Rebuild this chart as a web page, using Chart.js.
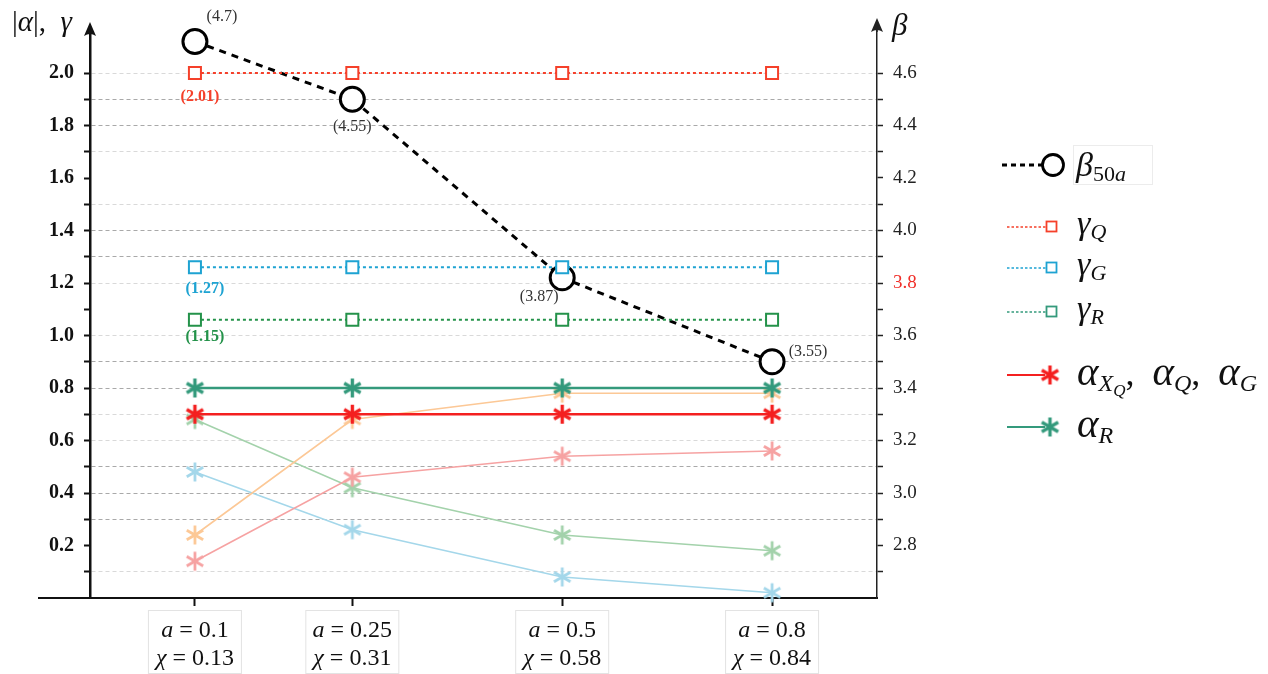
<!DOCTYPE html>
<html>
<head>
<meta charset="utf-8">
<script src="https://cdn.jsdelivr.net/npm/chart.js@4.4.0/dist/chart.umd.min.js"></script>
<style>
  html, body { margin: 0; padding: 0; background: #fff; }
</style>
</head>
<body>
<canvas id="chart" width="1268" height="674"></canvas>
<script>
// case positions along x (spacing as in the figure) and their labels
const casePos = [0, 3, 7, 11];
const aVals = ['0.1', '0.25', '0.5', '0.8'];
const chiVals = ['0.13', '0.31', '0.58', '0.84'];

// beta_50a (right axis)
const beta50a = [4.72, 4.5, 3.82, 3.5];
const betaLabels = ['(4.7)', '(4.55)', '(3.87)', '(3.55)'];

// gamma (left axis)
const gammaQ = [2.0, 2.0, 2.0, 2.0];
const gammaG = [1.26, 1.26, 1.26, 1.26];
const gammaR = [1.06, 1.06, 1.06, 1.06];
const gammaLabels = ['(2.01)', '(1.27)', '(1.15)'];

// alpha (left axis)
const alphaXQG = [0.7, 0.7, 0.7, 0.7];
const alphaR = [0.8, 0.8, 0.8, 0.8];

// faint background series
const faintOrange = [0.24, 0.68, 0.78, 0.78];
const faintPink = [0.14, 0.46, 0.54, 0.56];
const faintGreen = [0.68, 0.42, 0.24, 0.18];
const faintBlue = [0.48, 0.26, 0.08, 0.02];

// tick values
const leftTicks = [0.1, 0.2, 0.3, 0.4, 0.5, 0.6, 0.7, 0.8, 0.9, 1.0, 1.1, 1.2, 1.3, 1.4, 1.5, 1.6, 1.7, 1.8, 1.9, 2.0];
const rightTicks = [2.7, 2.8, 2.9, 3.0, 3.1, 3.2, 3.3, 3.4, 3.5, 3.6, 3.7, 3.8, 3.9, 4.0, 4.1, 4.2, 4.3, 4.4, 4.5, 4.6];

const serif = '"Liberation Serif", "DejaVu Serif", serif';

// gridline shade per tenth (L light, M medium, '' none)
const gridShade = {1: 'L', 2: '', 3: 'M', 4: 'M', 5: 'M', 6: 'L', 7: 'L', 8: 'M', 9: 'M', 10: 'L',
    11: '', 12: 'L', 13: 'M', 14: 'M', 15: 'L', 16: '', 17: 'L', 18: 'M', 19: 'M', 20: 'L'};
const gridColor = v => {
    const s = gridShade[Math.round(v * 10)];
    return s === 'M' ? '#a9a9a9' : s === 'L' ? '#d9d9d9' : 'rgba(0,0,0,0)';
};

const pts = arr => casePos.map((x, i) => ({x, y: arr[i]}));

// six-spoke asterisk marker
const makeStar = (color, r, lw) => {
    const c = document.createElement('canvas');
    const s = Math.ceil(2 * r + lw + 2);
    c.width = c.height = s;
    const g = c.getContext('2d');
    g.strokeStyle = color;
    g.lineWidth = lw;
    g.translate(s / 2, s / 2);
    for (let k = 0; k < 3; k++) {
        const a = Math.PI / 2 + k * Math.PI / 3;
        g.beginPath();
        g.moveTo(r * Math.cos(a), r * Math.sin(a));
        g.lineTo(-r * Math.cos(a), -r * Math.sin(a));
        g.stroke();
    }
    return c;
};

const C = {
    red: '#f5402a', cyan: '#1ea3d2', green: '#24924a',
    aRed: '#f42020', aTeal: '#349a7c',
    orange: '#fcc896', pink: '#f6a2a2', lgreen: '#a3d2ab', lblue: '#a4d7ea'
};

const stars = {
    aRed: makeStar(C.aRed, 9.5, 3.4), aTeal: makeStar(C.aTeal, 9.5, 3.4),
    orange: makeStar(C.orange, 9.5, 2.8), pink: makeStar(C.pink, 9.5, 2.8),
    lgreen: makeStar(C.lgreen, 9.5, 2.8), lblue: makeStar(C.lblue, 9.5, 2.8)
};

const faintSet = (data, col) => ({
    data: pts(data), yAxisID: 'y', borderColor: C[col], borderWidth: 1.6,
    pointStyle: stars[col], pointRadius: 9, order: 6
});
const gammaSet = (data, col) => ({
    data: pts(data), yAxisID: 'y', borderColor: C[col], borderWidth: 2, borderDash: [3, 3],
    pointStyle: 'rect', pointRadius: 8.5, pointBorderWidth: 2,
    pointBorderColor: C[col], pointBackgroundColor: '#fff', order: 2
});
const alphaSet = (data, col) => ({
    data: pts(data), yAxisID: 'y', borderColor: C[col], borderWidth: 2.4,
    pointStyle: stars[col], pointRadius: 9, order: 3
});

// draw a row of text runs with different fonts
const drawRuns = (ctx, runs, x, y, align) => {
    let w = 0;
    runs.forEach(r => { ctx.font = r.font; w += ctx.measureText(r.t).width; });
    let cx = align === 'center' ? x - w / 2 : x;
    runs.forEach(r => {
        ctx.font = r.font;
        ctx.fillText(r.t, cx, y + (r.dy || 0));
        cx += ctx.measureText(r.t).width;
    });
    return w;
};

const arrowUp = (ctx, x, fromY, tipY, lw, color) => {
    ctx.strokeStyle = color;
    ctx.fillStyle = color;
    ctx.lineWidth = lw;
    ctx.beginPath(); ctx.moveTo(x, fromY); ctx.lineTo(x, tipY + 8); ctx.stroke();
    ctx.beginPath();
    ctx.moveTo(x, tipY);
    ctx.lineTo(x - 6, tipY + 14);
    ctx.quadraticCurveTo(x, tipY + 10, x + 6, tipY + 14);
    ctx.closePath();
    ctx.fill();
};

const extras = {
    id: 'extras',
    afterDraw(chart) {
        const {ctx, chartArea: ca, scales} = chart;
        ctx.save();

        // axis extensions and arrows
        ctx.strokeStyle = '#111';
        ctx.lineWidth = 2;
        ctx.beginPath(); ctx.moveTo(38, ca.bottom); ctx.lineTo(ca.left, ca.bottom); ctx.stroke();
        arrowUp(ctx, ca.left, ca.top + 1, 22, 2.5, '#111');
        arrowUp(ctx, ca.right, ca.top + 1, 18, 1.5, '#222');

        // axis titles
        ctx.fillStyle = '#111';
        ctx.textBaseline = 'alphabetic';
        drawRuns(ctx, [
            {t: '|', font: `29px ${serif}`},
            {t: 'α', font: `italic 29px ${serif}`},
            {t: '|,  ', font: `29px ${serif}`},
            {t: 'γ', font: `italic 29px ${serif}`}
        ], 12, 31, 'left');
        drawRuns(ctx, [{t: 'β', font: `italic 31px ${serif}`}], 892, 35, 'left');

        // x case labels in faint boxes
        casePos.forEach((v, i) => {
            const cx = scales.x.getPixelForValue(v);
            ctx.strokeStyle = '#e3e3e3';
            ctx.lineWidth = 1;
            ctx.strokeRect(cx - 46.5, 610.5, 93, 63);
            ctx.fillStyle = '#111';
            drawRuns(ctx, [
                {t: 'a', font: `italic 24px ${serif}`},
                {t: ' = ' + aVals[i], font: `24px ${serif}`}
            ], cx, 637, 'center');
            drawRuns(ctx, [
                {t: 'χ', font: `italic 24px ${serif}`},
                {t: ' = ' + chiVals[i], font: `24px ${serif}`}
            ], cx, 665, 'center');
        });

        // value labels
        ctx.textAlign = 'center';
        ctx.textBaseline = 'middle';
        const bMeta = chart.getDatasetMeta(0);
        const bOff = [[27, -25], [0, 28], [-23, 19], [36, -10]];
        ctx.font = `16px ${serif}`;
        ctx.fillStyle = '#333';
        bMeta.data.forEach((p, i) => ctx.fillText(betaLabels[i], p.x + bOff[i][0], p.y + bOff[i][1]));
        const gOff = [[5, 24], [10, 22], [10, 17]];
        const gCol = [C.red, C.cyan, C.green];
        ctx.font = `bold 16px ${serif}`;
        [1, 2, 3].forEach((di, k) => {
            const p = chart.getDatasetMeta(di).data[0];
            ctx.fillStyle = gCol[k];
            ctx.fillText(gammaLabels[k], p.x + gOff[k][0], p.y + gOff[k][1]);
        });

        // legend
        ctx.textAlign = 'left';
        ctx.textBaseline = 'alphabetic';
        // beta_50a
        ctx.strokeStyle = '#000';
        ctx.lineWidth = 3;
        ctx.setLineDash([5, 4]);
        ctx.beginPath(); ctx.moveTo(1002, 165); ctx.lineTo(1042, 165); ctx.stroke();
        ctx.setLineDash([]);
        ctx.lineWidth = 2.8;
        ctx.fillStyle = '#fff';
        ctx.beginPath(); ctx.arc(1053, 165, 10.5, 0, Math.PI * 2); ctx.fill(); ctx.stroke();
        ctx.strokeStyle = '#ececec';
        ctx.lineWidth = 1;
        ctx.strokeRect(1073.5, 145.5, 79, 39);
        ctx.fillStyle = '#111';
        drawRuns(ctx, [
            {t: 'β', font: `italic 34px ${serif}`},
            {t: '50', font: `22px ${serif}`, dy: 5},
            {t: 'a', font: `italic 22px ${serif}`, dy: 5}
        ], 1076, 176, 'left');

        // gamma rows
        const gRows = [[227, C.red, 'Q'], [268, C.cyan, 'G'], [312, C.aTeal, 'R']];
        gRows.forEach(([y, col, sub]) => {
            ctx.strokeStyle = col;
            ctx.lineWidth = 1.5;
            ctx.setLineDash([2.5, 2]);
            ctx.beginPath(); ctx.moveTo(1007, y); ctx.lineTo(1046, y); ctx.stroke();
            ctx.setLineDash([]);
            ctx.fillStyle = '#fff';
            ctx.fillRect(1046, y - 5, 11, 11);
            ctx.lineWidth = 1.8;
            ctx.strokeRect(1046.5, y - 5.5, 10, 10);
            ctx.fillStyle = '#111';
            drawRuns(ctx, [
                {t: 'γ', font: `italic 34px ${serif}`},
                {t: sub, font: `italic 22px ${serif}`, dy: 5}
            ], 1077, y + 7, 'left');
        });

        // alpha rows
        const aRows = [[375, C.aRed, stars.aRed], [427, C.aTeal, stars.aTeal]];
        aRows.forEach(([y, col, st]) => {
            ctx.strokeStyle = col;
            ctx.lineWidth = 2;
            ctx.beginPath(); ctx.moveTo(1007, y); ctx.lineTo(1045, y); ctx.stroke();
            ctx.drawImage(st, 1050 - st.width / 2, y - st.height / 2);
        });
        ctx.fillStyle = '#111';
        drawRuns(ctx, [
            {t: 'α', font: `italic 41px ${serif}`},
            {t: 'X', font: `italic 24px ${serif}`, dy: 6},
            {t: 'Q', font: `italic 17px ${serif}`, dy: 11},
            {t: ',  ', font: `36px ${serif}`},
            {t: 'α', font: `italic 41px ${serif}`},
            {t: 'Q', font: `italic 24px ${serif}`, dy: 6},
            {t: ',  ', font: `36px ${serif}`},
            {t: 'α', font: `italic 41px ${serif}`},
            {t: 'G', font: `italic 24px ${serif}`, dy: 6}
        ], 1077, 385, 'left');
        drawRuns(ctx, [
            {t: 'α', font: `italic 41px ${serif}`},
            {t: 'R', font: `italic 24px ${serif}`, dy: 6}
        ], 1077, 437, 'left');

        ctx.restore();
    }
};

new Chart(document.getElementById('chart'), {
    type: 'line',
    data: {
        datasets: [
            {
                label: 'beta50a', data: pts(beta50a), yAxisID: 'y2',
                borderColor: '#000', borderWidth: 3, borderDash: [7, 6],
                pointStyle: 'circle', pointRadius: 12, pointBorderWidth: 3,
                pointBorderColor: '#000', pointBackgroundColor: '#fff', order: 4
            },
            {label: 'gammaQ', ...gammaSet(gammaQ, 'red')},
            {label: 'gammaG', ...gammaSet(gammaG, 'cyan')},
            {label: 'gammaR', ...gammaSet(gammaR, 'green')},
            {label: 'alphaXQG', ...alphaSet(alphaXQG, 'aRed')},
            {label: 'alphaR', ...alphaSet(alphaR, 'aTeal')},
            {label: 'f1', ...faintSet(faintOrange, 'orange')},
            {label: 'f2', ...faintSet(faintPink, 'pink')},
            {label: 'f3', ...faintSet(faintGreen, 'lgreen')},
            {label: 'f4', ...faintSet(faintBlue, 'lblue')}
        ]
    },
    options: {
        responsive: false,
        devicePixelRatio: 1,
        animation: false,
        events: [],
        clip: false,
        layout: {padding: {top: 31, left: 0, right: 0, bottom: 0}},
        elements: {line: {tension: 0, fill: false}},
        plugins: {legend: {display: false}, tooltip: {enabled: false}},
        scales: {
            x: {
                type: 'linear', min: -2, max: 13,
                afterBuildTicks: s => { s.ticks = casePos.map(v => ({value: v})); },
                afterFit: s => { s.height = 76; },
                ticks: {display: false},
                grid: {drawOnChartArea: false, drawTicks: true, tickLength: 8, tickColor: '#111', tickWidth: 2},
                border: {color: '#111', width: 2}
            },
            y: {
                position: 'left', min: 0, max: 2.16,
                afterBuildTicks: s => { s.ticks = leftTicks.map(v => ({value: v})); },
                afterFit: s => { s.width = 90; },
                ticks: {
                    autoSkip: false, padding: 10, color: '#111',
                    font: {family: serif, size: 20, weight: 'bold'},
                    callback: v => Math.round(v * 10) % 2 === 0 ? v.toFixed(1) : ''
                },
                grid: {
                    color: c => gridColor(c.tick ? c.tick.value : 0), lineWidth: 1,
                    tickColor: '#111', tickLength: 6, tickWidth: 2
                },
                border: {color: '#111', width: 2.5, dash: [4, 3]}
            },
            y2: {
                position: 'right', min: 2.6, max: 4.76,
                afterBuildTicks: s => { s.ticks = rightTicks.map(v => ({value: v})); },
                afterFit: s => { s.width = 391; },
                ticks: {
                    autoSkip: false, padding: 10,
                    color: c => (c.tick && Math.abs(c.tick.value - 3.8) < 1e-6) ? '#f0302a' : '#222',
                    font: {family: serif, size: 19},
                    callback: v => Math.round(v * 10) % 2 === 0 ? v.toFixed(1) : ''
                },
                grid: {drawOnChartArea: false, tickColor: '#222', tickLength: 6, tickWidth: 1.5},
                border: {color: '#222', width: 1.5}
            }
        }
    },
    plugins: [extras]
});
</script>
</body>
</html>
